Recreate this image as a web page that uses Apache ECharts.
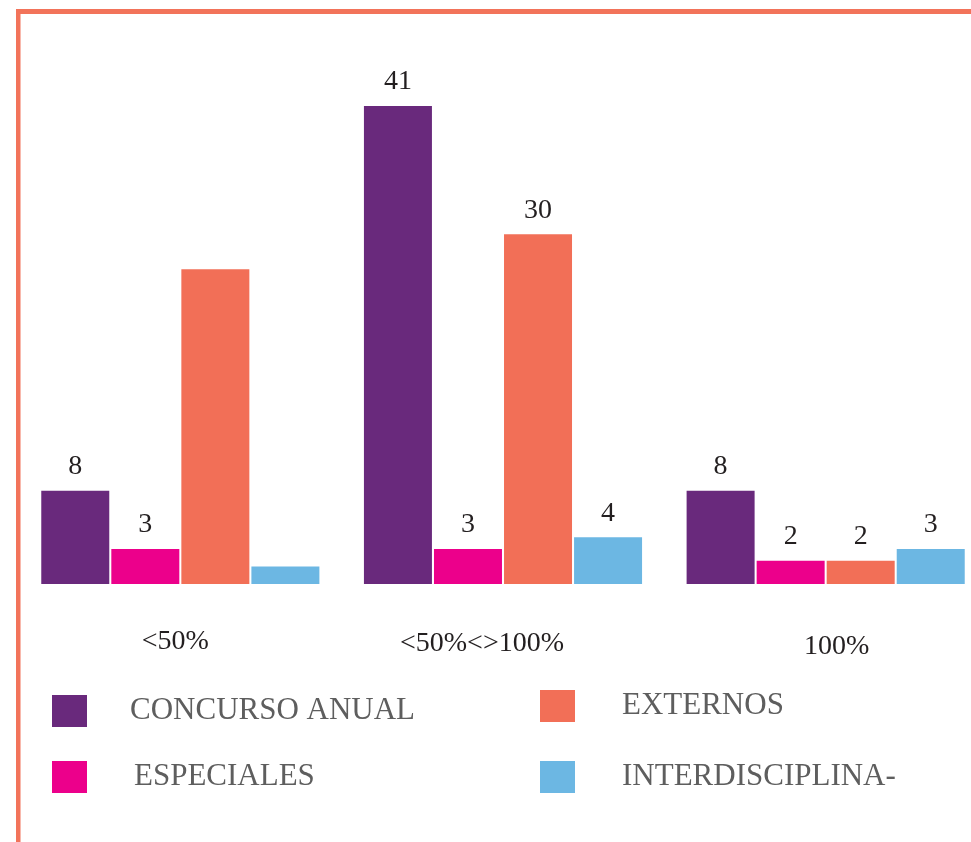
<!DOCTYPE html>
<html>
<head>
<meta charset="utf-8">
<script src="https://cdn.jsdelivr.net/npm/echarts@6/dist/echarts.min.js"></script>
<style>
  html, body { margin: 0; padding: 0; background: #fff; }
  #chart { width: 971px; height: 842px; }
</style>
</head>
<body>
<div id="chart"></div>
<script>
const categories = ["<50%", "<50%<>100%", "100%"];
const seriesNames = ["CONCURSO ANUAL", "ESPECIALES", "EXTERNOS", "INTERDISCIPLINA-"];
const concursoAnual = [8, 41, 8];
const especiales = [3, 3, 2];
const externos = [27, 30, 2];
const interdisciplina = [1.5, 4, 3];
// values without a printed label in the picture (estimated bars)
const labelHidden = [[false, false, false], [false, false, false], [true, false, false], [true, false, false]];

const colors = ["#69297c", "#ec008b", "#f26f57", "#6cb7e3"];
const serif = "Liberation Serif";
const values = [concursoAnual, especiales, externos, interdisciplina];

// small shifts of each category label, as in the picture
const catPadding = [[0, 10, 0, 0], [2, 42, 0, 0], [5, 0, 0, 22]];

const chart = echarts.init(document.getElementById("chart"));

const series = seriesNames.map((name, i) => ({
  name: name,
  type: "bar",
  barWidth: 68,
  barGap: "3%",
  itemStyle: { color: colors[i] },
  label: {
    show: true,
    position: "top",
    distance: 10,
    fontFamily: serif,
    fontSize: 28,
    color: "#231f20",
    formatter: (p) => (labelHidden[i][p.dataIndex] ? "" : p.value)
  },
  data: values[i]
}));

// one legend per entry, placed like the picture
const legendPos = [
  { left: 52, top: 695, textLeft: 38 },
  { left: 52, top: 761, textLeft: 42 },
  { left: 540, top: 690, textLeft: 42 },
  { left: 540, top: 761, textLeft: 42 }
];
const legends = seriesNames.map((name, i) => ({
  data: [name],
  left: legendPos[i].left,
  top: legendPos[i].top,
  padding: 0,
  icon: "rect",
  itemWidth: 35,
  itemHeight: 32,
  selectedMode: false,
  textStyle: {
    fontFamily: serif,
    fontSize: 31,
    color: "#5e5e5e",
    padding: [0, 0, 10, legendPos[i].textLeft]
  }
}));

const option = {
  backgroundColor: "#ffffff",
  animation: false,
  grid: { left: 19, width: 968, top: 106, bottom: 258, outerBoundsMode: "none" },
  legend: legends,
  xAxis: {
    type: "category",
    data: categories.map((c, i) => ({ value: c, textStyle: { padding: catPadding[i] } })),
    axisLine: { show: false },
    axisTick: { show: false },
    axisLabel: {
      margin: 44,
      fontFamily: serif,
      fontSize: 28,
      color: "#231f20"
    }
  },
  yAxis: {
    type: "value",
    min: 0,
    max: 41,
    show: false
  },
  graphic: [
    { type: "rect", shape: { x: 16, y: 9, width: 4.5, height: 840 }, style: { fill: "#f2735a" } },
    { type: "rect", shape: { x: 16, y: 9, width: 960, height: 5 }, style: { fill: "#f2735a" } }
  ],
  series: series
};

chart.setOption(option);
</script>
</body>
</html>
